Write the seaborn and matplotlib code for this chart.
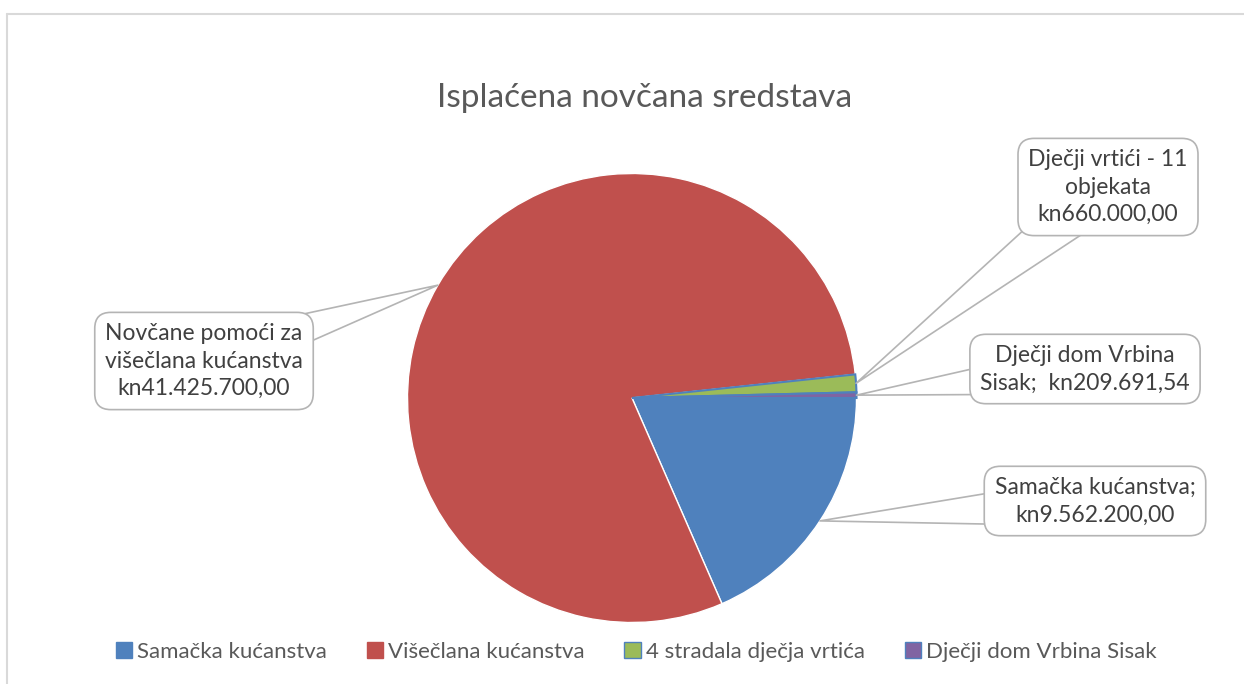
import matplotlib
matplotlib.use('Agg')
import numpy as np
import matplotlib.pyplot as plt
import seaborn as sns
from matplotlib.patches import Patch
from matplotlib.lines import Line2D

# Data
categories = ['Samačka kućanstva', 'Višečlana kućanstva',
              '4 stradala dječja vrtića', 'Dječji dom Vrbina Sisak']
values = [9562200.00, 41425700.00, 660000.00, 209691.54]
callout_texts = ['Samačka kućanstva;\nkn9.562.200,00',
                 'Novčane pomoći za\nvišečlana kućanstva\nkn41.425.700,00',
                 'Dječji vrtići - 11\nobjekata\nkn660.000,00',
                 'Dječji dom Vrbina\nSisak;  kn209.691,54']
title = 'Isplaćena novčana sredstava'

sns.set_theme(style='white')
plt.rcParams['font.family'] = ['Lato', 'DejaVu Sans']

colors = sns.color_palette(['#4F81BD', '#C0504D', '#9BBB59', '#8064A2'])
edge_colors = ['white', 'white', '#4F81BD', '#4F81BD']

W, H = 1244, 684
fig = plt.figure(figsize=(W / 100, H / 100), dpi=100)

# pie axes: centre (632, 398), radius 229 px
cx, cy, r = 632, 398, 229
ax = fig.add_axes([(cx - r) / W, 1 - (cy + r) / H, 2 * r / W, 2 * r / H])
wedges, _ = ax.pie(values, colors=colors, startangle=0, counterclock=False,
                   radius=1.0)
for w, ec in zip(wedges, edge_colors):
    w.set_edgecolor(ec)
    w.set_linewidth(1.5 if ec != 'white' else 1.0)
ax.set_xlim(-1.02, 1.02)
ax.set_ylim(-1.02, 1.02)
ax.axis('off')

# callouts (text centres in pixels)
label_px = [(1095, 501), (204, 361), (1108, 187), (1085, 369)]
for w, txt, (px, py) in zip(wedges, callout_texts, label_px):
    ang = np.deg2rad((w.theta1 + w.theta2) / 2)
    ax.annotate(txt, xy=(np.cos(ang), np.sin(ang)), xycoords='data',
                xytext=(px / W, 1 - py / H), textcoords='figure fraction',
                ha='center', va='center', fontsize=16.5, color='#404040',
                linespacing=1.4,
                bbox=dict(boxstyle='round,pad=0.45,rounding_size=0.7',
                          fc='white', ec='#B4B4B4', lw=1.2),
                arrowprops=dict(arrowstyle='wedge,tail_width=2.2,shrink_factor=0.5',
                                fc='white', ec='#B4B4B4', lw=1.2,
                                patchA=None, shrinkA=0, shrinkB=0))

fig.text(645 / W, 1 - 98 / H, title, ha='center', va='center',
         fontsize=24, color='#595959')

handles = [Patch(facecolor=c, edgecolor=e if e != 'white' else c)
           for c, e in zip(colors, edge_colors)]
fig.legend(handles, categories, loc='center', bbox_to_anchor=(636 / W, 1 - 652 / H),
           ncol=4, frameon=False, fontsize=16, handlelength=0.75,
           handleheight=0.75, handletextpad=0.2, columnspacing=1.8,
           labelcolor='#595959')

# outer chart border (top and left only visible)
fig.add_artist(Line2D([7 / W, 1], [1 - 14 / H, 1 - 14 / H], color='#D9D9D9', lw=1.5))
fig.add_artist(Line2D([7 / W, 7 / W], [0, 1 - 14 / H], color='#D9D9D9', lw=1.5))

fig.savefig('out.png', dpi=100)
